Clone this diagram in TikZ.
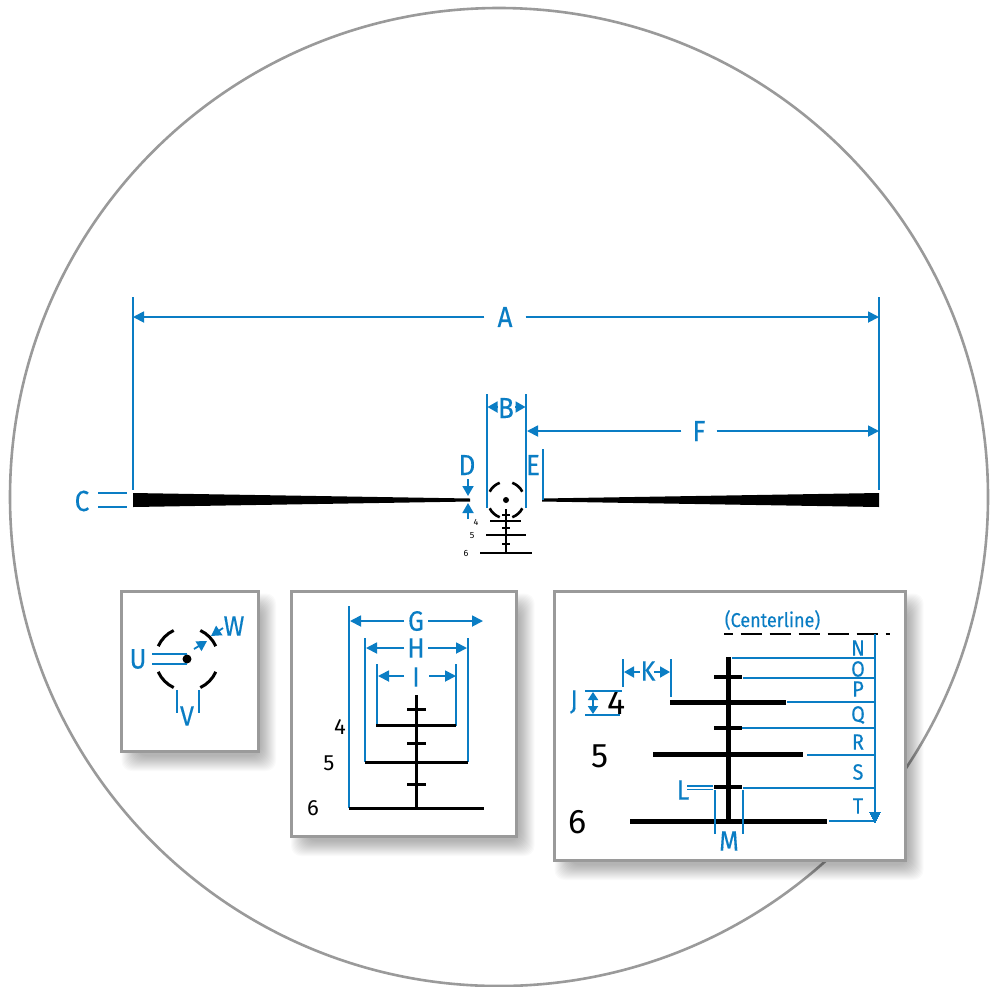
\documentclass[tikz,border=0pt]{standalone}
\usepackage{fontspec}
\setmainfont{Fira Sans}
\newfontfamily\labfont[FakeStretch=0.9,FakeBold=0.25]{Fira Sans}
\usetikzlibrary{arrows.meta}
\definecolor{dimblue}{HTML}{0A7DC4}
\definecolor{framegray}{HTML}{9A9A9A}
\newcommand{\pxfont}[1]{\fontsize{#1}{#1}\selectfont}
\newcommand{\dropshadow}[4]{%
  \foreach \g in {0,...,15}{
    \fill[black,opacity=0.021,rounded corners=10pt]
      ({#1+9-9+\g},{#2+11-9+\g}) rectangle ({#3+9+9-\g},{#4+11+9-\g});
  }}
\newcommand{\panel}[4]{%
  \dropshadow{#1}{#2}{#3}{#4}
  \draw[framegray,line width=3pt,fill=white] (#1,#2) rectangle (#3,#4);}
\tikzset{
  x=1pt,y=-1pt,
  dimline/.style={draw=dimblue,line width=1.8pt},
  thinline/.style={draw=dimblue,line width=1.6pt},
  dimarrow/.style={dimline,-{Triangle[length=11pt,width=11pt]}},
  smallarrow/.style={dimline,-{Triangle[length=10pt,width=11pt]}},
  bothsmall/.style={dimline,{Triangle[length=8pt,width=10pt]}-{Triangle[length=8pt,width=10pt]}},
  reticle/.style={draw=black,line width=3pt},
  bigreticle/.style={draw=black,line width=5pt},
  smallreticle/.style={draw=black,line width=2pt},
  biglabel/.style={text=dimblue,inner sep=0pt,font=\labfont\pxfont{29}},
  midlabel/.style={text=dimblue,inner sep=0pt,font=\labfont\pxfont{28}},
  listlabel/.style={text=dimblue,inner sep=0pt,font=\labfont\pxfont{22}},
  digit/.style={text=black,inner sep=0pt},
}
\begin{document}
\begin{tikzpicture}
\useasboundingbox (0,0) rectangle (998,986);
\fill[white] (0,0) rectangle (998,986);
\draw[framegray,line width=2.6pt] (499,497) circle[radius=489pt];

% ---- main view
\fill[black] (133,493) -- (470,498.5) -- (470,501.5) -- (133,507) -- cycle;
\fill[black] (879,493) -- (542,498.5) -- (542,501.5) -- (879,507) -- cycle;
\coordinate (Axl) at (133,317); \coordinate (Axr) at (879,317);
\draw[thinline] (133,297) -- (133,490);
\draw[thinline] (879,297) -- (879,490);
\node[biglabel] (A) at (505,317) {A};
\draw[dimarrow] (A.west) ++(-13,0) -- (Axl);
\draw[dimarrow] (A.east) ++(13,0) -- (Axr);
\draw[thinline] (487,394) -- (487,508);
\draw[thinline] (526,394) -- (526,508);
\node[biglabel] (B) at (506,408) {B};
\draw[smallarrow] (498,407) -- (487.5,407);
\draw[smallarrow] (515,407) -- (525.5,407);
\node[biglabel] (F) at (699,431) {F};
\coordinate (Fl) at (527,431); \coordinate (Fr) at (879,431);
\draw[dimarrow] (F.west) ++(-11,0) -- (Fl);
\draw[dimarrow] (F.east) ++(11,0) -- (Fr);
\node[biglabel] (E) at (533,465) {E};
\draw[thinline] (543,449) -- (543,500);
\node[biglabel] (D) at (467,465) {D};
\draw[smallarrow] (468,479) -- (468,496);
\draw[smallarrow] (468,519) -- (468,503);
\node[biglabel] (C) at (82,501) {C};
\draw[thinline] (98,493) -- (127,493);
\draw[thinline] (98,507) -- (127,507);
% small reticle
\fill[black] (506,500) circle[radius=3pt];
\foreach \s/\e in {153/110,70/27,-27/-70,-110/-153}{
  \draw[black,line width=2.6pt] (506,500) ++(\s:18.3pt) arc[start angle=\s,end angle=\e,radius=18.3pt];
}
\draw[smallreticle] (506,509) -- (506,553);
\foreach \yy in {515,528,544}{\draw[draw=black,line width=1.8pt] (502,\yy) -- (510,\yy);}
\draw[smallreticle] (490,521) -- (521,521);
\draw[smallreticle] (486,535) -- (526,535);
\draw[smallreticle] (480,553) -- (532,553);
\node[digit,font=\pxfont{9}] (s4) at (476,522) {4};
\node[digit,font=\pxfont{9}] (s5) at (472,536) {5};
\node[digit,font=\pxfont{9}] (s6) at (466,553) {6};

% ---- panel 1
\panel{121.5}{591.5}{258}{751}
\fill[black] (187,659) circle[radius=4.5pt];
\foreach \s/\e in {156/115,65/24,-24/-65,-115/-156}{
  \draw[black,line width=3pt] (187,659) ++(\s:31.5pt) arc[start angle=\s,end angle=\e,radius=31.5pt];
}
\node[midlabel] (U) at (138,659) {U};
\draw[thinline] (152,654) -- (187,654);
\draw[thinline] (152,664) -- (187,664);
\draw[thinline] (177,690) -- (177,713);
\draw[thinline] (199,690) -- (199,713);
\node[midlabel] (V) at (187,716) {V};
\node[midlabel] (W) at (234,626) {W};
\draw[smallarrow] (223,628) -- (211,636);
\draw[smallarrow] (194,649) -- (207,641);

% ---- panel 2
\panel{291}{591.5}{516.5}{836}
\draw[thinline] (349,606) -- (349,808);
\draw[thinline] (365,638) -- (365,762);
\draw[thinline] (468,638) -- (468,762);
\draw[thinline] (377,664) -- (377,726);
\draw[thinline] (456,664) -- (456,726);
\node[midlabel] (G) at (416,621) {G};
\node[midlabel] (H) at (416,648) {H};
\node[midlabel] (I) at (416,677) {I};
\draw[dimarrow] (404,621) -- (350,621);
\draw[dimarrow] (428,621) -- (483,621);
\draw[dimarrow] (404,648) -- (366,648);
\draw[dimarrow] (428,648) -- (467,648);
\draw[dimarrow] (404,676) -- (378,676);
\draw[dimarrow] (429,676) -- (456,676);
\draw[reticle] (416,695) -- (416,808);
\foreach \yy in {709,743,784}{\draw[reticle] (407,\yy) -- (426,\yy);}
\draw[reticle] (376,725) -- (456,725);
\draw[reticle] (365,762) -- (468,762);
\draw[reticle] (349,808) -- (484,808);
\node[digit,font=\pxfont{22}] (m4) at (340,727) {4};
\node[digit,font=\pxfont{22}] (m5) at (329,763) {5};
\node[digit,font=\pxfont{22}] (m6) at (313,808) {6};

% ---- panel 3
\panel{554.5}{591.5}{905.5}{860}
\node[text=dimblue,inner sep=0pt,font=\labfont\pxfont{20}] (CL) at (772.5,620) {(Centerline)};
\draw[draw=black,line width=2.5pt,dash pattern=on 21.5pt off 7.5pt,dash phase=12.5pt] (724,634) -- (890,634);
\draw[bigreticle] (728.5,657) -- (728.5,821);
\foreach \yy in {677,728,787}{\draw[draw=black,line width=4.5pt] (714,\yy) -- (742,\yy);}
\draw[bigreticle] (670,702) -- (786,702);
\draw[bigreticle] (653,754) -- (803,754);
\draw[bigreticle] (630,821) -- (827,821);
\node[digit,font=\pxfont{34}] (b4) at (617,703) {4};
\node[digit,font=\pxfont{34}] (b5) at (600,756) {5};
\node[digit,font=\pxfont{34}] (b6) at (578,822) {6};
\draw[thinline] (875,634) -- (875,815);
\draw[dimblue,fill=dimblue,line width=0pt] (869.5,812) -- (880.5,812) -- (875,822.5) -- cycle;
\foreach \yy/\xx in {658/732,678/743,702/787,728/742,755/807,788/743,821/829}{
  \draw[thinline] (\xx,\yy) -- (875,\yy);
}
\node[listlabel] (N) at (858,648) {N};
\node[listlabel] (O) at (858,669) {O};
\node[listlabel] (P) at (858,689) {P};
\node[listlabel] (Q) at (858,715) {Q};
\node[listlabel] (R) at (858,742) {R};
\node[listlabel] (S) at (858,772) {S};
\node[listlabel] (T) at (858,806) {T};
\draw[thinline] (715,790) -- (715,834);
\draw[thinline] (743,790) -- (743,834);
\node[midlabel] (M) at (729,841) {M};
\node[midlabel] (L) at (683,790) {L};
\draw[thinline] (687,786) -- (713,786);
\draw[thinline] (687,789.5) -- (713,789.5);
\node[midlabel] (J) at (574,702) {J};
\draw[thinline] (585,691) -- (622,691);
\draw[thinline] (585,715) -- (620,715);
\draw[bothsmall] (593,692) -- (593,714);
\draw[thinline] (623,659) -- (623,687);
\draw[thinline] (671,659) -- (671,697);
\node[midlabel] (K) at (648,671) {K};
\draw[smallarrow] (640,672) -- (624,672);
\draw[smallarrow] (654,672) -- (670,672);
\end{tikzpicture}
\end{document}
